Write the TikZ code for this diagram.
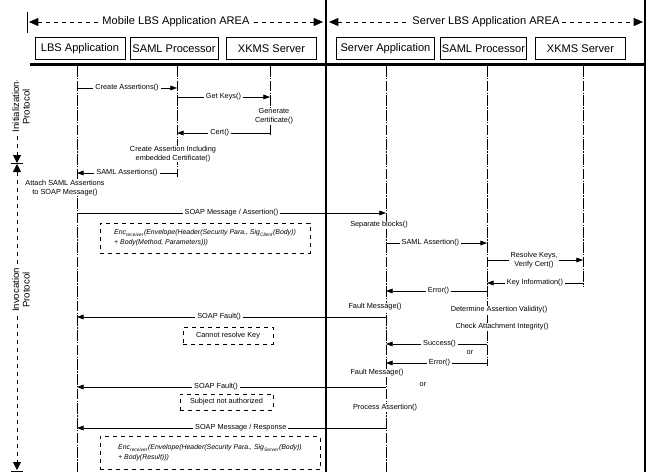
\documentclass[tikz,border=0pt]{standalone}
\usepackage{fontspec}
\setmainfont{Liberation Sans}
\usetikzlibrary{arrows.meta}
\begin{document}
\begin{tikzpicture}[x=0.75pt,y=-0.75pt,
  hdr/.style={draw, line width=0.6pt, minimum height=17pt, font=\fontsize{8.3}{9}\selectfont, inner sep=0pt},
  life/.style={line width=0.4pt, dash pattern=on 8pt off 1pt on 1pt off 1pt},
  msg/.style={line width=0.5pt, -{Triangle[length=5pt,width=3.6pt]}},
  lbl/.style={fill=white, font=\fontsize{5.5}{6}\selectfont, inner sep=1.5pt},
  txt/.style={fill=white, font=\fontsize{5.5}{6.6}\selectfont, align=center, inner sep=0.5pt},
  note/.style={draw, dashed, line width=0.5pt, inner sep=2pt},
  area/.style={dashed, line width=0.6pt, {Triangle[length=7pt,width=6pt]}-{Triangle[length=7pt,width=6pt]}},
  prot/.style={dashed, line width=0.6pt, {Triangle[length=6pt,width=6pt]}-{Triangle[length=6pt,width=6pt]}},
  arealbl/.style={fill=white, font=\fontsize{8.3}{9}\selectfont, inner sep=2pt},
  protlbl/.style={fill=white, rotate=90, align=center, font=\fontsize{7.2}{7.8}\selectfont, inner sep=1pt}]
\useasboundingbox (0,0) rectangle (651,472);

% frame lines
\coordinate (divT) at (326,0); \coordinate (divB) at (326,472);
\coordinate (rT) at (645,0); \coordinate (rB) at (645,472);
\draw[line width=2pt] (divT) -- (divB);
\draw[line width=1.1pt] (rT) -- (rB);
\coordinate (tkT) at (27,12); \coordinate (tkB) at (27,33);
\draw[line width=0.6pt] (tkT) -- (tkB);

% area arrows
\coordinate (ma) at (29,22); \coordinate (mb) at (323,22);
\draw[area] (ma) -- node[arealbl] (mtxt) {Mobile LBS Application AREA} (mb);
\coordinate (sa) at (329,22); \coordinate (sb) at (643,22);
\draw[area] (sa) -- node[arealbl] (stxt) {Server LBS Application AREA} (sb);

% header boxes
\node[hdr, minimum width=67.5pt] (lbs) at (80,48.5) {LBS Application};
\node[hdr, minimum width=66pt] (saml1) at (174,48.5) {SAML Processor};
\node[hdr, minimum width=68pt] (xkms1) at (271.5,48.5) {XKMS Server};
\node[hdr, minimum width=74pt] (sapp) at (385.5,48.5) {Server Application};
\node[hdr, minimum width=65pt] (saml2) at (483.5,48.5) {SAML Processor};
\node[hdr, minimum width=67pt] (xkms2) at (580.5,48.5) {XKMS Server};

\coordinate (hl1) at (30,64.5); \coordinate (hl2) at (645,64.5);
\draw[line width=1.6pt] (hl1) -- (hl2);

% lifelines
\coordinate (A0) at (77,66);  \coordinate (A1) at (77,472);
\coordinate (B0) at (177,66); \coordinate (B1) at (177,177);
\coordinate (C0) at (270,66); \coordinate (C1) at (270,136);
\coordinate (D0) at (386,66); \coordinate (D1) at (386,472);
\coordinate (E0) at (487,66); \coordinate (E1) at (487,366);
\coordinate (F0) at (583,66); \coordinate (F1) at (583,287);
\foreach \s/\e in {A0/A1,B0/B1,C0/C1,D0/D1,E0/E1,F0/F1}
  \draw[life] (\s) -- (\e);

% protocol arrows
\coordinate (p1) at (17,80); \coordinate (p2) at (17,163);
\coordinate (p3) at (17,164); \coordinate (p4) at (17,470);
\draw[prot] (p1) -- (p2);
\draw[prot] (p3) -- (p4);
\coordinate (t1a) at (11,163.5); \coordinate (t1b) at (23,163.5);
\draw[line width=0.6pt] (t1a) -- (t1b);
\coordinate (t2a) at (11,471); \coordinate (t2b) at (23,471);
\draw[line width=0.6pt] (t2a) -- (t2b);
\node[protlbl] (initl) at (21,107) {Initialization\\Protocol};
\node[protlbl] (invl) at (21,290) {Invocation\\Protocol};

% messages: initialization
\coordinate (m1a) at (77,88); \coordinate (m1b) at (177,88);
\draw[msg] (m1a) -- node[lbl] (l1) {Create Assertions()} (m1b);
\coordinate (m2a) at (177,97); \coordinate (m2b) at (270,97);
\draw[msg] (m2a) -- node[lbl, pos=0.5] (l2) {Get Keys()} (m2b);
\node[txt] (gen) at (274,116) {Generate\\Certificate()};
\coordinate (m3a) at (270,133); \coordinate (m3b) at (177,133);
\draw[msg] (m3a) -- node[lbl, pos=0.54] (l3) {Cert()} (m3b);
\node[txt] (cai) at (173,154) {Create Assertion Including\\embedded Certificate()};
\coordinate (m4a) at (177,173); \coordinate (m4b) at (77,173);
\draw[msg] (m4a) -- node[lbl] (l4) {SAML Assertions()} (m4b);
\node[txt] (att) at (65,188) {Attach SAML Assertions\\to SOAP Message()};

% invocation
\coordinate (m5a) at (77,213); \coordinate (m5b) at (386,213);
\draw[msg] (m5a) -- node[lbl, pos=0.5] (l5) {SOAP Message / Assertion()} (m5b);
\node[note, minimum width=157.5pt, minimum height=22.5pt, align=left, font=\fontsize{5.2}{7.4}\selectfont\itshape] (n1) at (205,238)
  {Enc\textsubscript{receiver}(Envelope(Header(Security Para., Sig\textsubscript{Client}(Body))\\+ Body(Method, Parameters)))};
\node[txt] (sep) at (379,225) {Separate blocks()};
\coordinate (m6a) at (386,243); \coordinate (m6b) at (487,243);
\draw[msg] (m6a) -- node[lbl, pos=0.44] (l6) {SAML Assertion()} (m6b);
\coordinate (m7a) at (487,260); \coordinate (m7b) at (583,260);
\draw[msg] (m7a) -- node[lbl, pos=0.49, align=center, font=\fontsize{5.5}{6.6}\selectfont] (l7) {Resolve Keys,\\Verify Cert()} (m7b);
\coordinate (m8a) at (583,283); \coordinate (m8b) at (487,283);
\draw[msg] (m8a) -- node[lbl, pos=0.5] (l8) {Key Information()} (m8b);
\coordinate (m9a) at (487,291); \coordinate (m9b) at (386,291);
\draw[msg] (m9a) -- node[lbl, pos=0.48] (l9) {Error()} (m9b);
\node[txt] (fm1) at (375,307) {Fault Message()};
\node[txt] (dav) at (499,310) {Determine Assertion Validity()};
\node[txt] (cai2) at (502,327) {Check Attachment Integrity()};
\coordinate (m10a) at (386,317); \coordinate (m10b) at (77,317);
\draw[msg] (m10a) -- node[lbl, pos=0.54] (l10) {SOAP Fault()} (m10b);
\node[note, minimum width=67.5pt, minimum height=12.5pt, font=\fontsize{5.5}{6}\selectfont] (n2) at (228,335.5) {Cannot resolve Key};
\coordinate (m11a) at (487,344); \coordinate (m11b) at (386,344);
\draw[msg] (m11a) -- node[lbl, pos=0.47] (l11) {Success()} (m11b);
\node[txt] (or1) at (470,353) {or};
\coordinate (m12a) at (487,363); \coordinate (m12b) at (386,363);
\draw[msg] (m12a) -- node[lbl, pos=0.47] (l12) {Error()} (m12b);
\node[txt] (fm2) at (377,373) {Fault Message()};
\node[txt] (or2) at (423,385) {or};
\coordinate (m13a) at (386,387); \coordinate (m13b) at (77,387);
\draw[msg] (m13a) -- node[lbl, pos=0.55] (l13) {SOAP Fault()} (m13b);
\node[note, minimum width=70pt, minimum height=12pt, font=\fontsize{5.5}{6}\selectfont] (n3) at (226.5,402) {Subject not authorized};
\node[txt] (pa) at (385,408) {Process Assertion()};
\coordinate (m14a) at (386,428); \coordinate (m14b) at (77,428);
\draw[msg] (m14a) -- node[lbl, pos=0.47] (l14) {SOAP Message / Response} (m14b);
\node[note, minimum width=165pt, minimum height=25pt, align=left, font=\fontsize{5.2}{7.4}\selectfont\itshape] (n4) at (210,453)
  {Enc\textsubscript{receiver}(Envelope(Header(Security Para., Sig\textsubscript{Server}(Body))\\+ Body(Result)))};
\end{tikzpicture}
\end{document}
